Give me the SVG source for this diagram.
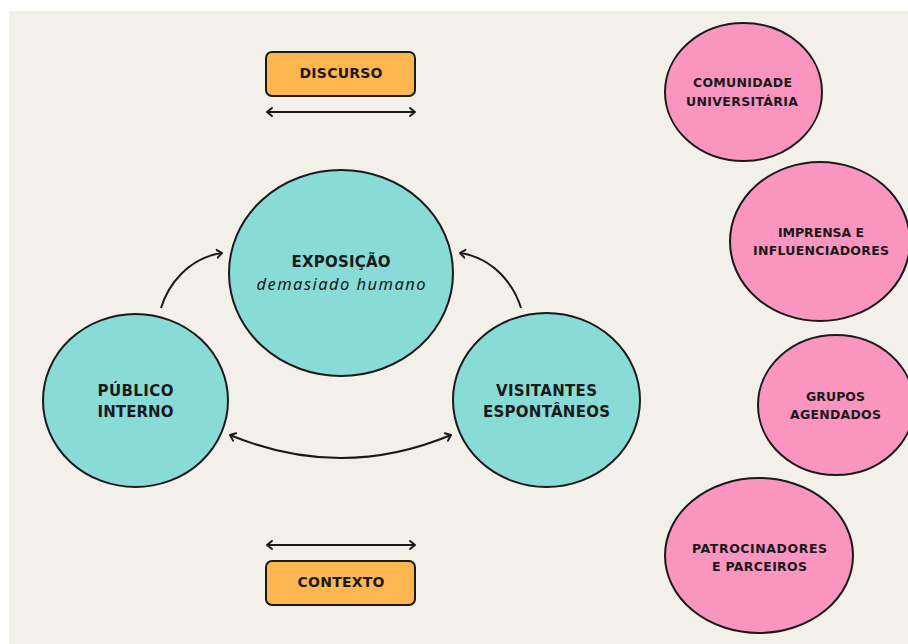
<svg xmlns="http://www.w3.org/2000/svg" width="908" height="644" viewBox="0 0 908 644">
<defs>
<style>
.bg{fill:#F3F0EA}
.teal{fill:#88DBD7;stroke:#1a1a1a;stroke-width:2}
.pink{fill:#F995BF;stroke:#1a1a1a;stroke-width:2}
.box{fill:#FDB650;stroke:#1a1a1a;stroke-width:2}
.t{font-family:"DejaVu Sans","Liberation Sans",sans-serif;font-weight:700;fill:#1a1a1a;text-anchor:middle}
.big{font-size:15px}
.mid{font-size:14px}
.sm{font-size:12.5px}
.it{font-family:"Noto Sans","Liberation Sans",sans-serif;font-style:italic;font-size:16.5px;fill:#1a1a1a;text-anchor:middle}
.ln{fill:none;stroke:#1a1a1a;stroke-width:2}
</style>
<marker id="ah" markerUnits="userSpaceOnUse" markerWidth="12" markerHeight="12" viewBox="-6 -6 12 12" refX="0" refY="0" orient="auto-start-reverse">
<path d="M-5,-4 L0,0 L-5,4" fill="none" stroke="#1a1a1a" stroke-width="2" stroke-linecap="round" stroke-linejoin="round"/>
</marker>
</defs>
<rect width="908" height="644" fill="#ffffff"/>
<rect class="bg" x="9" y="11" width="899" height="633"/>

<g id="connectors">
<path class="ln" d="M161,308 C168,285 188,258 222,253" marker-end="url(#ah)"/>
<path class="ln" d="M521,308 C514,285 494,258 460,253" marker-end="url(#ah)"/>
<path class="ln" d="M230,435 Q341,481 451,435" marker-start="url(#ah)" marker-end="url(#ah)"/>
<path class="ln" d="M267,112 L415,112" marker-start="url(#ah)" marker-end="url(#ah)"/>
<path class="ln" d="M267,545 L415,545" marker-start="url(#ah)" marker-end="url(#ah)"/>
</g>

<g id="discurso">
<rect class="box" x="266" y="52" width="149" height="44" rx="6"/>
<text class="t mid" x="341" y="78" textLength="83" lengthAdjust="spacing">DISCURSO</text>
</g>
<g id="contexto">
<rect class="box" x="266" y="561" width="149" height="44" rx="6"/>
<text class="t mid" x="341" y="587" textLength="87" lengthAdjust="spacing">CONTEXTO</text>
</g>

<g id="exposicao">
<ellipse class="teal" cx="341" cy="273" rx="112" ry="103"/>
<text class="t big" x="341" y="267" textLength="99" lengthAdjust="spacing">EXPOSIÇÃO</text>
<text class="it" x="341" y="290" textLength="169" lengthAdjust="spacing">demasiado humano</text>
</g>
<g id="publico-interno">
<ellipse class="teal" cx="135.5" cy="400.5" rx="92.5" ry="86.5"/>
<text class="t big" x="135.5" y="396" textLength="76" lengthAdjust="spacing">PÚBLICO</text>
<text class="t big" x="135.5" y="417" textLength="76" lengthAdjust="spacing">INTERNO</text>
</g>
<g id="visitantes">
<ellipse class="teal" cx="546.5" cy="400" rx="93.5" ry="87"/>
<text class="t big" x="546.5" y="396" textLength="101" lengthAdjust="spacing">VISITANTES</text>
<text class="t big" x="546.5" y="417" textLength="127" lengthAdjust="spacing">ESPONTÂNEOS</text>
</g>

<g id="comunidade">
<ellipse class="pink" cx="743.5" cy="92" rx="78.5" ry="69"/>
<text class="t sm" x="742.5" y="87" textLength="99" lengthAdjust="spacing">COMUNIDADE</text>
<text class="t sm" x="742" y="106" textLength="112" lengthAdjust="spacing">UNIVERSITÁRIA</text>
</g>
<g id="imprensa">
<ellipse class="pink" cx="820" cy="241.5" rx="90" ry="79.5"/>
<text class="t sm" x="821" y="237" textLength="86" lengthAdjust="spacing">IMPRENSA E</text>
<text class="t sm" x="821" y="255" textLength="136" lengthAdjust="spacing">INFLUENCIADORES</text>
</g>
<g id="grupos">
<ellipse class="pink" cx="836" cy="405" rx="78" ry="70"/>
<text class="t sm" x="835.5" y="401" textLength="59" lengthAdjust="spacing">GRUPOS</text>
<text class="t sm" x="835.5" y="419" textLength="91" lengthAdjust="spacing">AGENDADOS</text>
</g>
<g id="patrocinadores">
<ellipse class="pink" cx="759" cy="555.5" rx="94" ry="77.5"/>
<text class="t sm" x="759.5" y="553" textLength="135" lengthAdjust="spacing">PATROCINADORES</text>
<text class="t sm" x="759.5" y="571" textLength="95" lengthAdjust="spacing">E PARCEIROS</text>
</g>
</svg>
